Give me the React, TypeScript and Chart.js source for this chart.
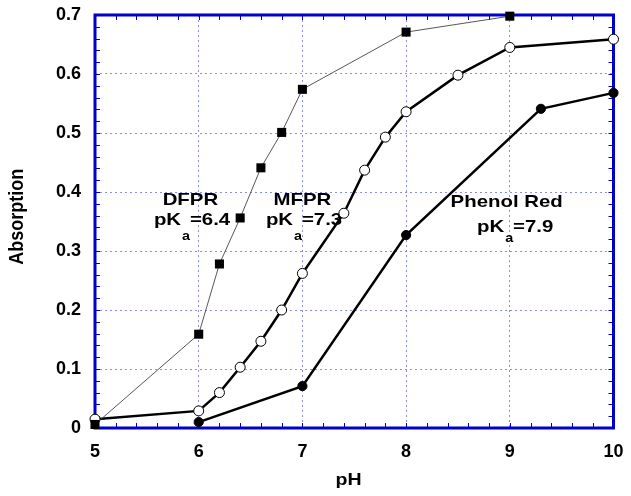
import React, { useEffect, useRef } from 'react';
import { Chart, registerables } from 'chart.js';

Chart.register(...registerables);

// ---- data ----
const phDFPR = [5, 6, 6.2, 6.4, 6.6, 6.8, 7, 8, 9];
const absDFPR = [0.006, 0.159, 0.278, 0.356, 0.441, 0.501, 0.574, 0.671, 0.698];

const phMFPR = [5, 6, 6.2, 6.4, 6.6, 6.8, 7, 7.4, 7.6, 7.8, 8, 8.5, 9, 10];
const absMFPR = [0.015, 0.029, 0.06, 0.103, 0.147, 0.2, 0.262, 0.364, 0.437, 0.493, 0.536, 0.598, 0.645, 0.659];

const phPR = [6, 7, 8, 9.3, 10];
const absPR = [0.01, 0.071, 0.327, 0.541, 0.568];

const xTickLabels = ['5', '6', '7', '8', '9', '10'];
const yTickLabels = ['0', '0.1', '0.2', '0.3', '0.4', '0.5', '0.6', '0.7'];

const xTitle = 'pH';
const yTitle = 'Absorption';

const annNames = ['DFPR', 'MFPR', 'Phenol Red'];
const annPKa = ['=6.4', '=7.3', '=7.9'];
const annX = [5.92, 7.0, 8.97];
const annY = [0.378, 0.378, 0.375];

// ---- styles ----
const FONT = '"Liberation Sans", Arial, sans-serif';
const BLUE = '#0000cc';
const GRID = 'rgba(120,120,230,0.85)';
const SX = 1.2; // horizontal text stretch
const annPkDx = [-36.5, -36.5, -29.7];
const annPkDy = [20, 20, 25];
const annSubDy = [35, 35, 35];

function toPts(xs: number[], ys: number[]) {
  return xs.map((v, i) => ({ x: v, y: ys[i] }));
}

function stretchText(ctx: CanvasRenderingContext2D, s: string, x: number, y: number, align: CanvasTextAlign, sx: number) {
  ctx.save();
  ctx.translate(x, y);
  ctx.scale(sx, 1);
  ctx.textAlign = align;
  ctx.textBaseline = 'alphabetic';
  ctx.fillText(s, 0, 0);
  ctx.restore();
}

function zeroPad(s: any) {
  s.paddingTop = 0;
  s.paddingBottom = 0;
  s.paddingLeft = 0;
  s.paddingRight = 0;
}

const decorPlugin = {
  id: 'decor',
  beforeDatasetsDraw(chart: any) {
    const { ctx, chartArea } = chart;
    const { left, right, top, bottom } = chartArea;
    const xs = chart.scales.x;
    const ys = chart.scales.y;
    ctx.save();
    // minor ticks
    ctx.strokeStyle = BLUE;
    ctx.lineWidth = 1;
    ctx.beginPath();
    for (let i = 1; i < 25; i++) {
      const px = Math.round(xs.getPixelForValue(5 + i * 0.2)) + 0.5;
      ctx.moveTo(px, bottom);
      ctx.lineTo(px, bottom - 5);
      ctx.moveTo(px, top);
      ctx.lineTo(px, top + 5);
    }
    for (let i = 1; i < 35; i++) {
      const py = Math.round(ys.getPixelForValue(i * 0.02)) + 0.5;
      ctx.moveTo(left, py);
      ctx.lineTo(left + 5, py);
      ctx.moveTo(right, py);
      ctx.lineTo(right - 5, py);
    }
    ctx.stroke();
    // frame
    ctx.lineWidth = 3;
    ctx.strokeRect(left, top, right - left, bottom - top);

    // annotations
    ctx.fillStyle = '#000';
    for (let i = 0; i < annNames.length; i++) {
      const cx = xs.getPixelForValue(annX[i]);
      const cy = ys.getPixelForValue(annY[i]);
      ctx.font = `bold 17px ${FONT}`;
      stretchText(ctx, annNames[i], cx, cy, 'center', SX);
      const pkX = cx + annPkDx[i];
      const pkY = cy + annPkDy[i];
      stretchText(ctx, 'pK', pkX, pkY, 'left', SX);
      const wPK = ctx.measureText('pK').width * SX;
      stretchText(ctx, annPKa[i], pkX + 36, pkY, 'left', SX);
      ctx.font = `bold 12px ${FONT}`;
      stretchText(ctx, 'a', pkX + wPK + 1, cy + annSubDy[i], 'left', SX);
    }

    // axis titles
    ctx.font = `bold 17px ${FONT}`;
    stretchText(ctx, xTitle, 348.5, 485, 'center', 1.15);
    ctx.save();
    ctx.font = `bold 18px ${FONT}`;
    ctx.translate(23.3, 216.7);
    ctx.scale(1.1, 1);
    ctx.rotate(-Math.PI / 2);
    ctx.textAlign = 'center';
    ctx.textBaseline = 'alphabetic';
    ctx.fillText(yTitle, 0, 0);
    ctx.restore();

    ctx.restore();
  },
};

export default function App() {
  const ref = useRef<HTMLCanvasElement | null>(null);

  useEffect(() => {
    if (!ref.current) return;
    const chart = new Chart(ref.current, {
      type: 'scatter',
      data: {
        datasets: [
          {
            label: 'DFPR',
            data: toPts(phDFPR, absDFPR),
            showLine: true,
            borderColor: '#444',
            borderWidth: 0.9,
            pointStyle: 'rect',
            pointRadius: 6.4,
            pointBackgroundColor: '#000',
            pointBorderColor: '#000',
            pointBorderWidth: 0,
            clip: false,
          } as any,
          {
            label: 'MFPR',
            data: toPts(phMFPR, absMFPR),
            showLine: true,
            borderColor: '#000',
            borderWidth: 2.5,
            pointStyle: 'circle',
            pointRadius: 5,
            pointBackgroundColor: '#fff',
            pointBorderColor: '#000',
            pointBorderWidth: 1,
            clip: false,
          },
          {
            label: 'Phenol Red',
            data: toPts(phPR, absPR),
            showLine: true,
            borderColor: '#000',
            borderWidth: 2.5,
            pointStyle: 'circle',
            pointRadius: 4.6,
            pointBackgroundColor: '#000',
            pointBorderColor: '#000',
            pointBorderWidth: 1,
            clip: false,
          },
        ],
      },
      options: {
        animation: false,
        responsive: true,
        maintainAspectRatio: false,
        events: [],
        layout: { padding: { left: 0, top: 15, right: 17.5, bottom: 0 } },
        plugins: { legend: { display: false }, tooltip: { enabled: false } },
        scales: {
          x: {
            type: 'linear',
            min: 5,
            max: 10,
            afterFit: (s: any) => { s.height = 68; zeroPad(s); },
            ticks: {
              stepSize: 1,
              autoSkip: false,
              maxRotation: 0,
              padding: 13,
              color: '#000',
              font: { family: FONT, size: 18, weight: 'bold' },
              callback: (_v: any, i: number) => xTickLabels[i],
            },
            grid: { color: GRID, lineWidth: 1, drawTicks: false },
            border: { display: false, dash: [2, 3] },
          },
          y: {
            type: 'linear',
            min: 0,
            max: 0.7,
            afterFit: (s: any) => { s.width = 95; zeroPad(s); },
            ticks: {
              stepSize: 0.1,
              autoSkip: false,
              padding: 14,
              color: '#000',
              font: { family: FONT, size: 18, weight: 'bold' },
              callback: (_v: any, i: number) => yTickLabels[i],
            },
            grid: { color: GRID, lineWidth: 1, drawTicks: false },
            border: { display: false, dash: [2, 3] },
          },
        },
      },
      plugins: [decorPlugin],
    });
    return () => chart.destroy();
  }, []);

  return (
    <div style={{ position: 'absolute', left: 0, top: 0, width: 631, height: 496, background: '#fff' }}>
      <canvas ref={ref} />
    </div>
  );
}
